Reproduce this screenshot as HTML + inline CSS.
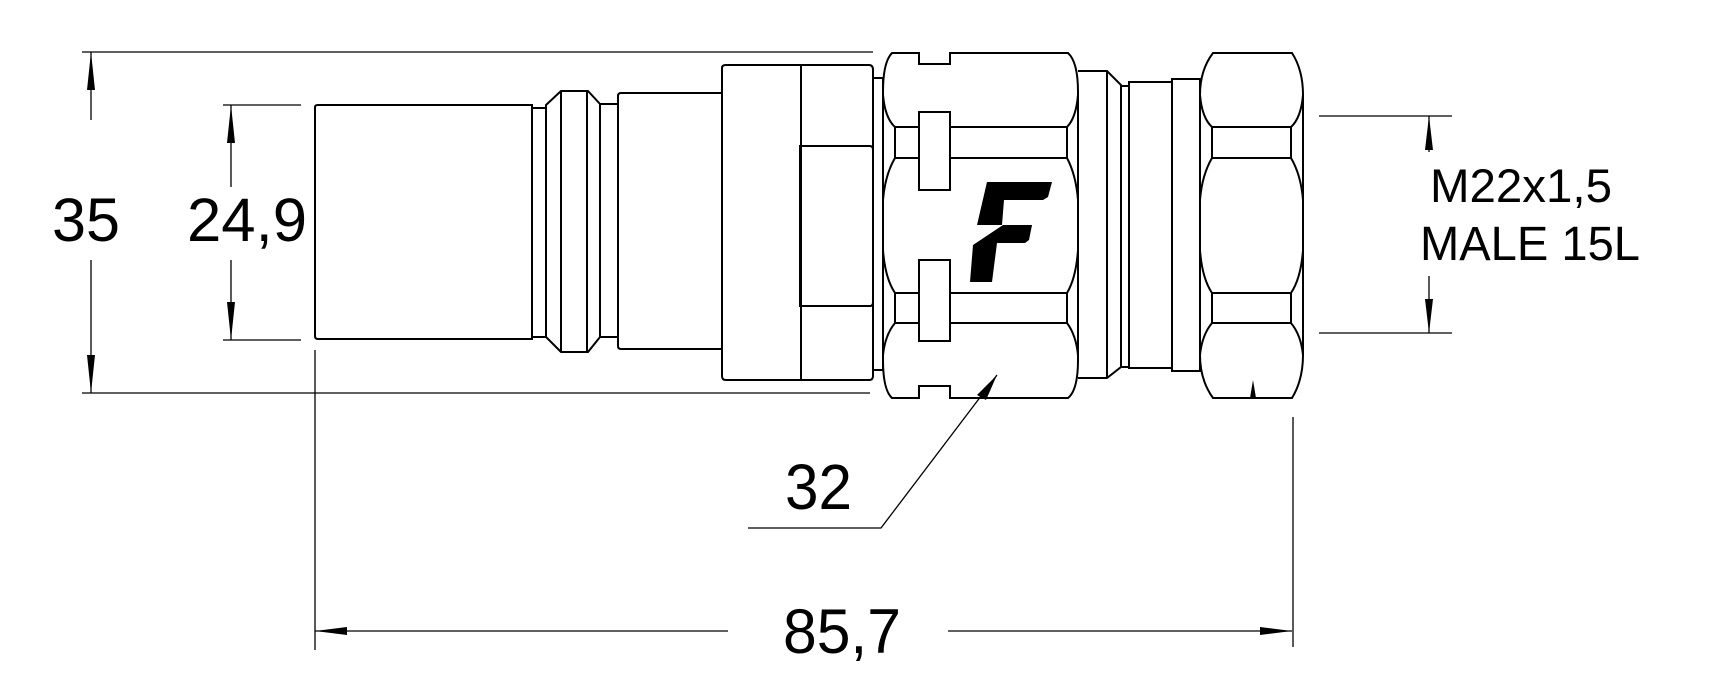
<!DOCTYPE html>
<html><head><meta charset="utf-8"><style>
html,body{margin:0;padding:0;background:#fff;}
svg{display:block;}
text{font-family:"Liberation Sans",sans-serif;fill:#000;}
</style></head><body>
<svg width="1710" height="676" viewBox="0 0 1710 676" xmlns="http://www.w3.org/2000/svg">
<g fill="none" stroke="#000" stroke-width="1.3">
<!-- dimension lines -->
<line x1="82" y1="52" x2="873" y2="52"/>
<line x1="82" y1="393" x2="870" y2="393"/>
<line x1="91" y1="52" x2="91" y2="120"/>
<line x1="91" y1="260" x2="91" y2="393"/>
<line x1="223" y1="105" x2="301" y2="105"/>
<line x1="223" y1="340" x2="301" y2="340"/>
<line x1="231" y1="105" x2="231" y2="187"/>
<line x1="231" y1="260" x2="231" y2="340"/>
<line x1="315" y1="350" x2="315" y2="650"/>
<line x1="1293" y1="417" x2="1293" y2="647"/>
<line x1="315" y1="631" x2="728" y2="631"/>
<line x1="948" y1="631" x2="1292" y2="631"/>
<line x1="1319" y1="116" x2="1452" y2="116"/>
<line x1="1319" y1="333" x2="1452" y2="333"/>
<line x1="1429" y1="116" x2="1429" y2="152"/>
<line x1="1429" y1="276" x2="1429" y2="333"/>
<polyline points="748,528 881,528 997,375"/>
</g>
<g fill="#000">
<polygon points="91,52 87,90 95,90"/>
<polygon points="91,393 87,355 95,355"/>
<polygon points="231,105 227,143 235,143"/>
<polygon points="231,340 227,302 235,302"/>
<polygon points="315,631 347,627 347,635"/>
<polygon points="1292,631 1260,627 1260,635"/>
<polygon points="1429,116 1425,150 1433,150"/>
<polygon points="1429,333 1425,299 1433,299"/>
<polygon points="997,375 977,395 986,400"/>
<polygon points="1253,380 1250,398 1256,398"/>
<!-- F logo -->
<polygon points="987,182 1052,182 1048,197 1043,200 1004,200 1002,225 977,225"/>
<polygon points="1003,225 1032,225 1029,240 1025,243 997,243 992,282 970,282 973,245"/>
</g>
<g fill="none" stroke="#000" stroke-width="2">
<!-- left parts -->
<path d="M315,107 Q315,105 318,105 H532 V339 H318 Q315,339 315,336 Z"/>
<rect x="532" y="108" width="14" height="229"/>
<path d="M546,105 L561,91 H588 L600,104 V337 L588,352 H561 L546,337 Z"/>
<line x1="561" y1="91" x2="561" y2="352"/>
<line x1="587" y1="91" x2="587" y2="352"/>
<rect x="600" y="104" width="18" height="233"/>
<path d="M618,96 Q618,93 621,93 H722 V349 H621 Q618,349 618,346 Z"/>
<path d="M722,68 Q722,65 726,65 H869 Q873,65 873,70 V376 Q873,380 869,380 H726 Q722,380 722,376 Z"/>
<line x1="801" y1="65" x2="801" y2="380"/>
<path d="M800,146 H870 Q873,146 873,150 V302 Q873,306 870,306 H800 Z"/>
<rect x="873" y="78" width="10" height="292"/>
<!-- nut 1 -->
<path d="M892,53 H919 V64 H950 V53 H1068 Q1078,62 1078,92 V360 Q1078,390 1068,398 H950 V386 H919 V398 H892 Q883,390 883,360 V92 Q883,62 892,53 Z"/>
<path d="M883,95 Q885,118 895,127 M895,158 Q885,175 883,200 M883,250 Q885,278 895,293 M895,323 Q885,335 883,355"/>
<path d="M1078,95 Q1076,118 1067,127 M1067,158 Q1076,175 1078,200 M1078,250 Q1076,278 1067,293 M1067,323 Q1076,335 1078,355"/>
<path d="M895,127 H1067 V158 H895 Z M895,293 H1067 V323 H895 Z"/>
<rect x="919" y="112" width="31" height="78" fill="#fff"/>
<rect x="919" y="260" width="31" height="81" fill="#fff"/>
<!-- right parts -->
<path d="M1078,71 H1107 L1121,85 V367 L1107,378 H1078"/>
<line x1="1107" y1="71" x2="1107" y2="378"/>
<rect x="1121" y="86" width="8" height="281"/>
<rect x="1129" y="82" width="43" height="286"/>
<rect x="1172" y="79" width="28" height="292"/>
<!-- nut 2 -->
<path d="M1213,53 H1292 Q1303,70 1303,95 V355 Q1303,380 1292,398 H1213 Q1200,380 1200,355 V95 Q1200,70 1213,53 Z"/>
<path d="M1200,95 Q1202,118 1212,127 M1212,158 Q1202,175 1200,200 M1200,250 Q1202,278 1212,293 M1212,323 Q1202,335 1200,355"/>
<path d="M1303,95 Q1301,118 1291,127 M1291,158 Q1301,175 1303,200 M1303,250 Q1301,278 1291,293 M1291,323 Q1301,335 1303,355"/>
<path d="M1212,127 H1291 V158 H1212 Z M1212,293 H1291 V323 H1212 Z"/>
</g>
<text x="52" y="241" font-size="61" textLength="68" lengthAdjust="spacingAndGlyphs">35</text>
<text x="187" y="241" font-size="61" textLength="120" lengthAdjust="spacingAndGlyphs">24,9</text>
<text x="785" y="509" font-size="64" textLength="67" lengthAdjust="spacingAndGlyphs">32</text>
<text x="783" y="653" font-size="63" textLength="118" lengthAdjust="spacingAndGlyphs">85,7</text>
<text x="1430" y="202" font-size="47" textLength="182" lengthAdjust="spacingAndGlyphs">M22x1,5</text>
<text x="1420" y="260" font-size="48" textLength="220" lengthAdjust="spacingAndGlyphs">MALE 15L</text>
</svg>
</body></html>
